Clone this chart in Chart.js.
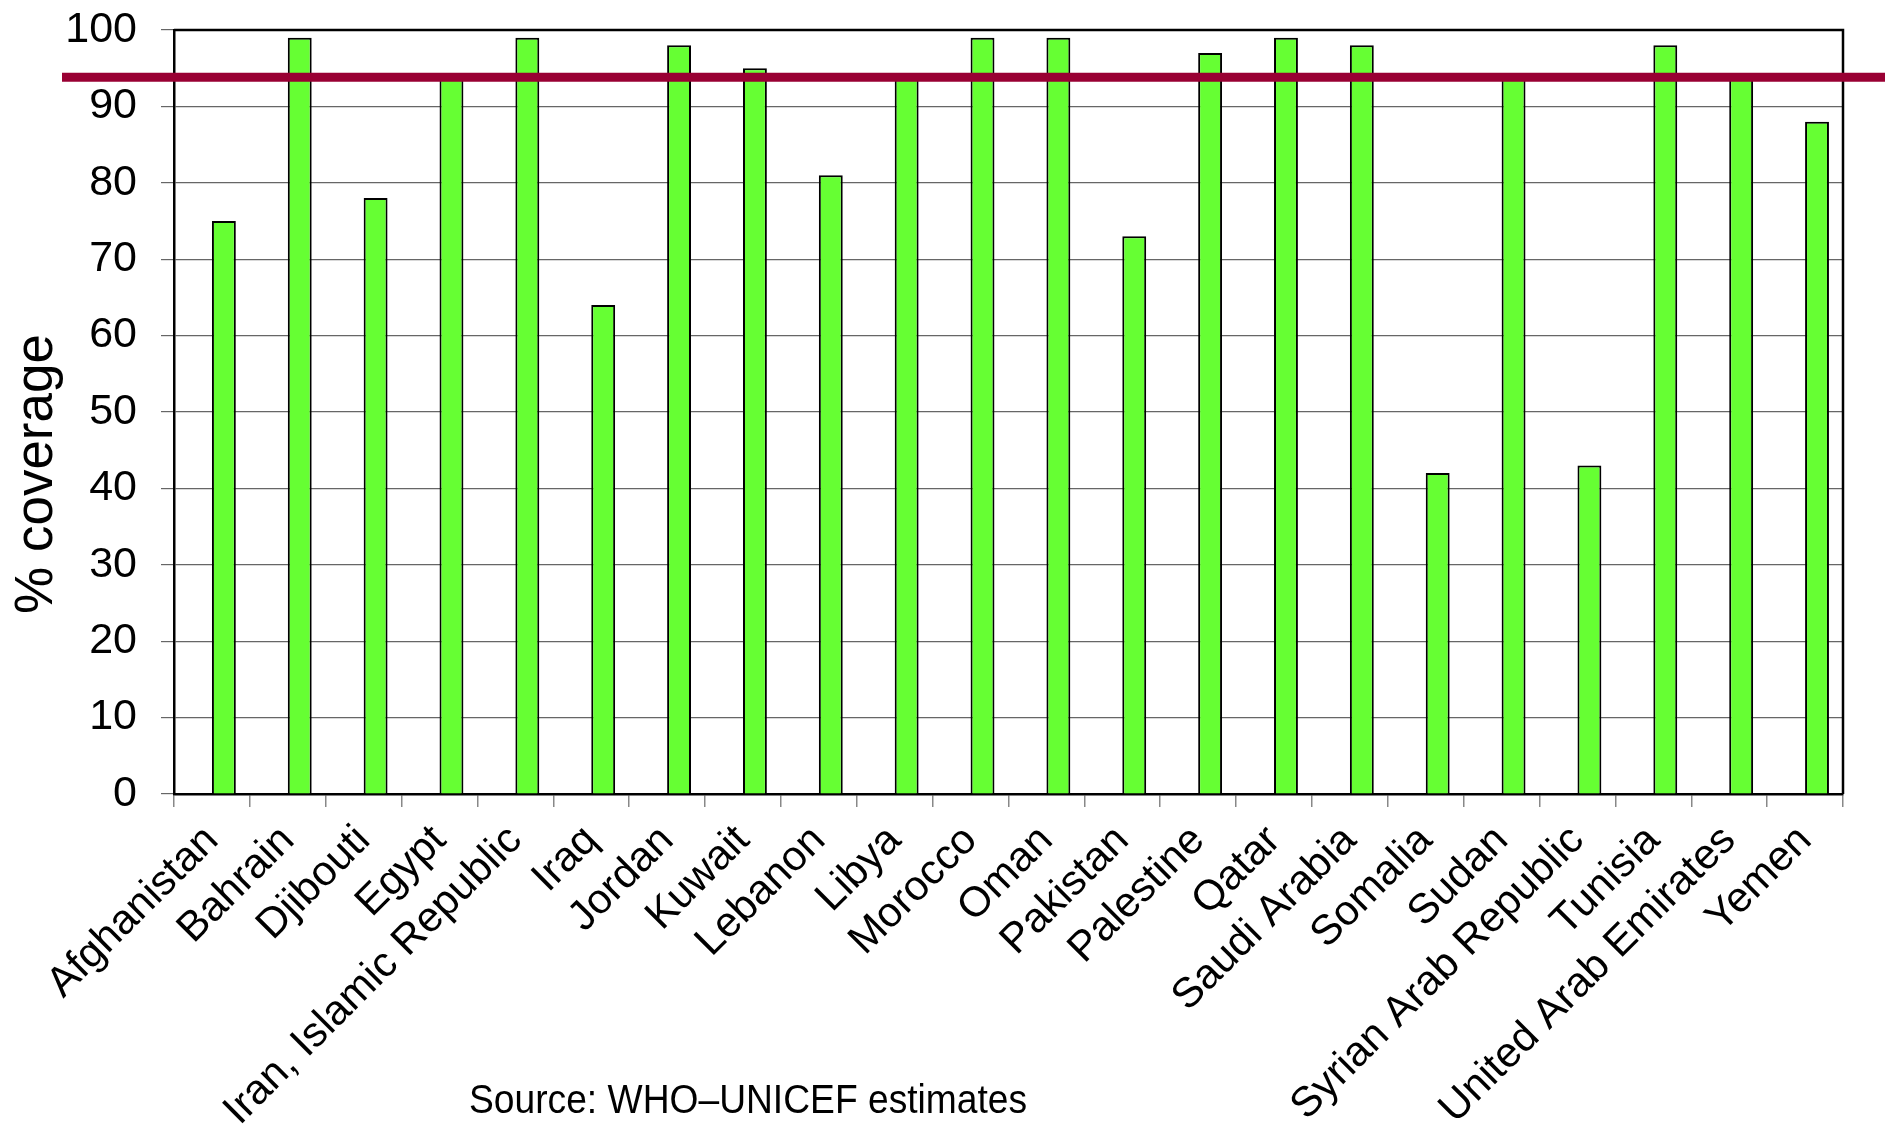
<!DOCTYPE html>
<html>
<head>
<meta charset="utf-8">
<title>% coverage</title>
<script src="https://cdn.jsdelivr.net/npm/chart.js@4.4.1/dist/chart.umd.min.js"></script>
<style>
  html,body{margin:0;padding:0;background:#fff;}
  #wrap{width:1885px;height:1133px;}
</style>
</head>
<body>
<div id="wrap"><canvas id="chart" width="1885" height="1133"></canvas></div>
<script>
// data
const countries = ['Afghanistan','Bahrain','Djibouti','Egypt','Iran, Islamic Republic','Iraq','Jordan','Kuwait',
  'Lebanon','Libya','Morocco','Oman','Pakistan','Palestine','Qatar','Saudi Arabia','Somalia','Sudan',
  'Syrian Arab Republic','Tunisia','United Arab Emirates','Yemen'];
const coverage = [75,99,78,94,99,64,98,95,81,94,99,99,73,97,99,98,42,94,43,98,94,88];
const yMin = 0, yMax = 100, yStep = 10;
const targetLevel = 93.8;            // the dark red line across the chart
const yTitle = '% coverage';
const sourceNote = 'Source: WHO\u2013UNICEF estimates';

const FONT = '"Liberation Sans", Arial, sans-serif';
Chart.defaults.font.family = FONT;
Chart.defaults.color = '#000';

// top + right edge of the plot box
const frame = {
  id:'frame',
  beforeDatasetsDraw(chart){
    const {ctx, chartArea:a} = chart;
    ctx.save();
    ctx.strokeStyle = '#000'; ctx.lineWidth = 2.5;
    ctx.beginPath();
    ctx.moveTo(a.left, a.top); ctx.lineTo(a.right, a.top); ctx.lineTo(a.right, a.bottom);
    ctx.stroke();
    ctx.restore();
  }
};

// target line, runs past the plot box on both sides
const targetLine = {
  id:'targetLine',
  afterDatasetsDraw(chart){
    const {ctx} = chart;
    const y = chart.scales.y.getPixelForValue(targetLevel);
    ctx.save();
    ctx.strokeStyle = '#990033'; ctx.lineWidth = 9;
    ctx.beginPath(); ctx.moveTo(62, y); ctx.lineTo(chart.width, y); ctx.stroke();
    ctx.restore();
  }
};

// y title sits a bit below the middle of the axis in the original, and the texts are slightly condensed
const texts = {
  id:'texts',
  afterDraw(chart){
    const {ctx} = chart;
    ctx.save();
    ctx.fillStyle = '#000';
    ctx.font = '53px ' + FONT;
    ctx.textAlign = 'center'; ctx.textBaseline = 'middle';
    ctx.translate(37, 474); ctx.rotate(-Math.PI/2);
    ctx.fillText(yTitle, 0, 0);
    ctx.restore();

    ctx.save();
    ctx.fillStyle = '#000';
    ctx.font = '40px ' + FONT;
    ctx.textAlign = 'left'; ctx.textBaseline = 'alphabetic';
    ctx.translate(469, 1113); ctx.scale(0.93, 1);
    ctx.fillText(sourceNote, 0, 0);
    ctx.restore();
  }
};

new Chart(document.getElementById('chart'), {
  type:'bar',
  data:{
    labels: countries,
    datasets:[
      // empty first series: the original sits its bars right of the category centre
      {label:'', data:[]},
      {label:yTitle, data:coverage, backgroundColor:'#66ff33', borderColor:'#000', borderWidth:2, borderSkipped:'bottom'}
    ]
  },
  options:{
    responsive:false, animation:false, devicePixelRatio:1,
    layout:{padding:{top:30, right:42, left:0, bottom:0}},
    datasets:{bar:{categoryPercentage:0.63, barPercentage:1}},
    plugins:{legend:{display:false}, tooltip:{enabled:false}},
    scales:{
      x:{
        offset:true,
        grid:{offset:true, drawOnChartArea:false, color:'#888', lineWidth:1.5, tickLength:13},
        border:{color:'#000', width:2.5},
        ticks:{autoSkip:false, minRotation:45, maxRotation:45, font:{size:42}, padding:9},
        afterFit(s){ s.height = 339; }
      },
      y:{
        min:yMin, max:yMax,
        ticks:{stepSize:yStep, font:{size:43}, padding:24},
        grid:{color:'#666', lineWidth:1.2, tickLength:13},
        border:{color:'#000', width:2.5},
        afterFit(s){ s.width = 174; s.paddingTop = 0; s.paddingBottom = 0; }
      }
    }
  },
  plugins:[frame, targetLine, texts]
});
</script>
</body>
</html>
